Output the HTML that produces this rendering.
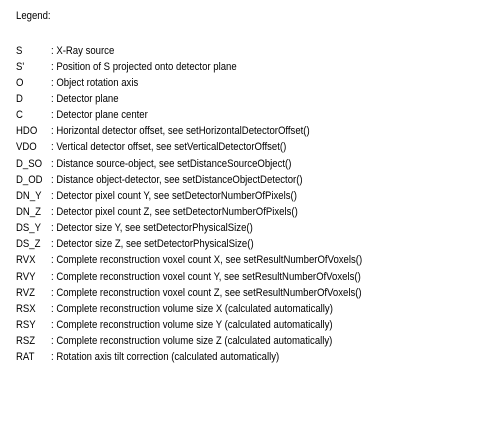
<!DOCTYPE html>
<html><head><style>
html,body{margin:0;padding:0;background:#fff;width:495px;height:425px;overflow:hidden}
.t{position:absolute;font-family:"Liberation Sans Narrow","Liberation Sans",sans-serif;font-size:11px;color:#000;white-space:nowrap;transform:scaleX(0.87);transform-origin:0 0;line-height:12px}
</style></head><body>
<div class="t" style="left:16px;top:10px">Legend:</div>
<div id="c"></div>
<script>
var rows=[["S","X-Ray source"],["S'","Position of S projected onto detector plane"],["O","Object rotation axis"],["D","Detector plane"],["C","Detector plane center"],["HDO","Horizontal detector offset, see setHorizontalDetectorOffset()"],["VDO","Vertical detector offset, see setVerticalDetectorOffset()"],["D_SO","Distance source-object, see setDistanceSourceObject()"],["D_OD","Distance object-detector, see setDistanceObjectDetector()"],["DN_Y","Detector pixel count Y, see setDetectorNumberOfPixels()"],["DN_Z","Detector pixel count Z, see setDetectorNumberOfPixels()"],["DS_Y","Detector size Y, see setDetectorPhysicalSize()"],["DS_Z","Detector size Z, see setDetectorPhysicalSize()"],["RVX","Complete reconstruction voxel count X, see setResultNumberOfVoxels()"],["RVY","Complete reconstruction voxel count Y, see setResultNumberOfVoxels()"],["RVZ","Complete reconstruction voxel count Z, see setResultNumberOfVoxels()"],["RSX","Complete reconstruction volume size X (calculated automatically)"],["RSY","Complete reconstruction volume size Y (calculated automatically)"],["RSZ","Complete reconstruction volume size Z (calculated automatically)"],["RAT","Rotation axis tilt correction (calculated automatically)"]];
var h="";
rows.forEach(function(r,i){var y=44.5+i*16.15;
h+='<div class="t" style="left:16px;top:'+y+'px">'+r[0]+'</div><div class="t" style="left:51px;top:'+y+'px">: '+r[1]+'</div>';});
document.getElementById("c").innerHTML=h;
</script>
</body></html>
